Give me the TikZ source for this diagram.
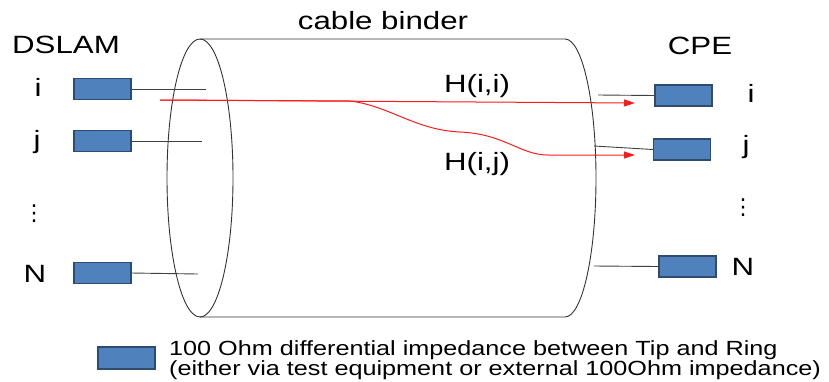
\documentclass[tikz,border=0pt]{standalone}
\usepackage{fontspec}
\setmainfont[FakeStretch=1.25]{Liberation Sans}
\newfontfamily\legendfont[FakeStretch=1.23]{Liberation Sans}
\newfontfamily\dotfont{DejaVu Sans}
\usetikzlibrary{arrows.meta,positioning}
\definecolor{termblue}{HTML}{4F81BD}
\definecolor{termedge}{HTML}{2F4B6E}
\definecolor{pathred}{HTML}{FF1A1A}

\tikzset{
  term/.style={draw=termedge,fill=termblue,line width=1.1pt,
               minimum width=57pt,minimum height=21pt,inner sep=0pt},
  lbl/.style={inner sep=0pt,anchor=base,font=\fontsize{25}{28}\selectfont},
  vdot/.style={inner sep=0pt,font=\dotfont\fontsize{22}{24}\selectfont},
  wire/.style={draw=black!75,line width=0.9pt},
  xtalk/.style={draw=pathred,line width=1pt,
                -{Triangle[length=11pt,width=7pt]}}
}

\begin{document}
\begin{tikzpicture}[x=1pt,y=-1pt]
  \useasboundingbox (0,0) rectangle (829,381);

  % cable binder
  \draw[wire,black!80] (200,178) ellipse [x radius=33pt,y radius=139pt];
  \draw[wire,black!80] (200,39) -- (565,39)
    arc[start angle=90,end angle=-90,x radius=31pt,y radius=139pt] -- (200,317);
  \node[lbl] (binder) at (383,29) {cable binder};

  % DSLAM side
  \node[lbl] (dslam) at (66,53) {DSLAM};
  \node[term] (ti) at (102.5,89) {};
  \node[term] (tj) at (102.5,141) {};
  \node[term] (tn) at (102.5,273) {};
  \node[lbl] (li) at (38,96) {i};
  \node[lbl] (lj) at (37,148) {j};
  \node[vdot] (ldots) at (34,214) {⋮};
  \node[lbl] (ln) at (35,282) {N};
  \coordinate (ei) at (206,89);
  \coordinate (ej) at (202,141);
  \coordinate (en) at (198,274);
  \draw[wire] (ti.east) -- (ei);
  \draw[wire] (tj.east) -- (ej);
  \draw[wire] (tn.east) -- (en);

  % CPE side
  \node[lbl] (cpe) at (700,54) {CPE};
  \node[term] (ri) at (683.5,95.5) {};
  \node[term] (rj) at (682,149.5) {};
  \node[term] (rn) at (687.5,266.5) {};
  \node[lbl] (lri) at (751,102) {i};
  \node[lbl] (lrj) at (746,153) {j};
  \node[vdot] (lrdots) at (743,208) {⋮};
  \node[lbl] (lrn) at (743,275) {N};
  \coordinate (fi) at (598,95);
  \coordinate (fj) at (594,146);
  \coordinate (fn) at (594,266);
  \draw[wire] (fi) -- (ri.west);
  \draw[wire] (fj) -- (rj.west);
  \draw[wire] (fn) -- (rn.west);

  % transfer functions
  \coordinate (src) at (160,100);
  \coordinate (fork) at (350,101);
  \coordinate (dii) at (635,103);
  \coordinate (dij) at (635,155);
  \draw[xtalk] (src) -- (dii);
  \draw[xtalk] (src) -- (fork)
    .. controls (390,106) and (415,130) .. (460,132)
    .. controls (505,134) and (520,155) .. (548,155) -- (dij);
  \node[lbl] (hii) at (477,92) {H(i,i)};
  \node[lbl] (hij) at (477,170) {H(i,j)};

  % legend
  \node[term,minimum height=22pt] (key) at (126.5,358) {};
  \node[anchor=west,inner sep=0pt,align=left,
        font=\legendfont\fontsize{20.5}{18}\selectfont] (keytext) at (169,360)
    {100 Ohm differential impedance between Tip and Ring\\
     (either via test equipment or external 100Ohm impedance)};
\end{tikzpicture}
\end{document}
